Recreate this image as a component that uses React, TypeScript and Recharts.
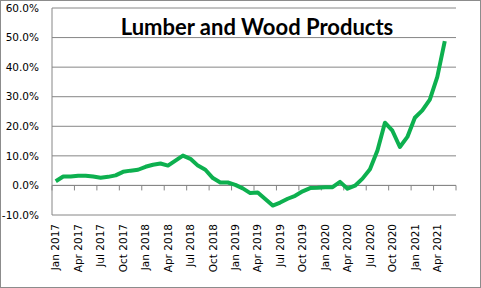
import React from 'react';
import { LineChart, Line, XAxis, YAxis, CartesianGrid, ReferenceLine } from 'recharts';

// Monthly categories, Jan 2017 .. Jun 2021
const months = [
  'Jan 2017', 'Feb 2017', 'Mar 2017', 'Apr 2017', 'May 2017', 'Jun 2017',
  'Jul 2017', 'Aug 2017', 'Sep 2017', 'Oct 2017', 'Nov 2017', 'Dec 2017',
  'Jan 2018', 'Feb 2018', 'Mar 2018', 'Apr 2018', 'May 2018', 'Jun 2018',
  'Jul 2018', 'Aug 2018', 'Sep 2018', 'Oct 2018', 'Nov 2018', 'Dec 2018',
  'Jan 2019', 'Feb 2019', 'Mar 2019', 'Apr 2019', 'May 2019', 'Jun 2019',
  'Jul 2019', 'Aug 2019', 'Sep 2019', 'Oct 2019', 'Nov 2019', 'Dec 2019',
  'Jan 2020', 'Feb 2020', 'Mar 2020', 'Apr 2020', 'May 2020', 'Jun 2020',
  'Jul 2020', 'Aug 2020', 'Sep 2020', 'Oct 2020', 'Nov 2020', 'Dec 2020',
  'Jan 2021', 'Feb 2021', 'Mar 2021', 'Apr 2021', 'May 2021', 'Jun 2021',
];

// year-over-year change, percent
const lumberWood: (number | null)[] = [
  1.4, 3.0, 3.0, 3.3, 3.3, 3.0, 2.6, 2.9, 3.4, 4.6, 5.0, 5.3,
  6.3, 7.0, 7.4, 6.7, 8.4, 10.1, 9.0, 6.7, 5.3, 2.5, 1.0, 1.0,
  0.2, -1.0, -2.6, -2.4, -4.6, -6.8, -5.8, -4.5, -3.5, -2.0, -0.9, -0.8,
  -0.6, -0.6, 1.2, -1.1, -0.1, 2.3, 5.5, 11.8, 21.2, 18.5, 13.0, 16.4,
  22.9, 25.4, 29.0, 36.7, 48.8, null,
];

const yTicks = [-10, 0, 10, 20, 30, 40, 50, 60];

const data = months.map((m, i) => ({ month: m, value: lumberWood[i] }));

const axisGray = '#868686';
const tickFont = { fontFamily: 'DejaVu Sans', fontSize: 10.5, fill: '#000' };

const MonthTick = (props: any) => {
  const { x, y, payload } = props;
  return (
    <text
      transform={`translate(${x},${y}) rotate(-90)`}
      textAnchor="end"
      dy="0.35em"
      {...tickFont}
    >
      {payload.value}
    </text>
  );
};

// zero line with tick marks between every 3rd category (Excel style)
const ZeroAxis = (props: any) => {
  const left = Math.min(props.x1, props.x2);
  const right = Math.max(props.x1, props.x2);
  const y = props.y1;
  const steps = months.length / 3;
  const marks = [];
  for (let k = 0; k <= steps; k++) {
    const x = left + ((right - left) * k) / steps;
    marks.push(<line key={k} x1={x} x2={x} y1={y} y2={y + 5} stroke={axisGray} strokeWidth={1} />);
  }
  return (
    <g>
      <line x1={left} x2={right} y1={y} y2={y} stroke={axisGray} strokeWidth={1} />
      {marks}
    </g>
  );
};

const App: React.FC = () => {
  return (
    <div
      style={{
        position: 'fixed',
        left: 0,
        top: 0,
        width: 481,
        height: 288,
        boxSizing: 'border-box',
        border: '1px solid #8c8c8c',
        background: '#fff',
      }}
    >
      <div style={{ position: 'absolute', left: -1, top: -1 }}>
        <LineChart width={481} height={288} data={data} margin={{ top: 8, right: 25, left: 0, bottom: 0 }}>
          <CartesianGrid vertical={false} stroke={axisGray} strokeWidth={1} />
          <XAxis
            dataKey="month"
            interval={2}
            height={73}
            axisLine={false}
            tickLine={false}
            tickSize={0}
            tickMargin={9}
            padding={{ left: 3.74, right: 3.74 }}
            tick={<MonthTick />}
          />
          <YAxis
            domain={[-10, 60]}
            ticks={yTicks}
            width={52}
            stroke={axisGray}
            tickLine={false}
            tickSize={6}
            tickMargin={7}
            tick={tickFont}
            tickFormatter={(v: number) => `${v.toFixed(1)}%`}
          />
          <ReferenceLine y={0} shape={(p: any) => <ZeroAxis {...p} />} />
          <Line
            type="linear"
            dataKey="value"
            stroke="#0DB04F"
            strokeWidth={4}
            strokeLinejoin="round"
            dot={false}
            isAnimationActive={false}
          />
        </LineChart>
      </div>
      <div
        style={{
          position: 'absolute',
          left: 256,
          top: 15,
          transform: 'translateX(-50%)',
          whiteSpace: 'nowrap',
          fontFamily: 'Lato',
          fontWeight: 700,
          fontSize: 22,
          lineHeight: 1,
          color: '#000',
        }}
      >
        Lumber and Wood Products
      </div>
    </div>
  );
};

export default App;
